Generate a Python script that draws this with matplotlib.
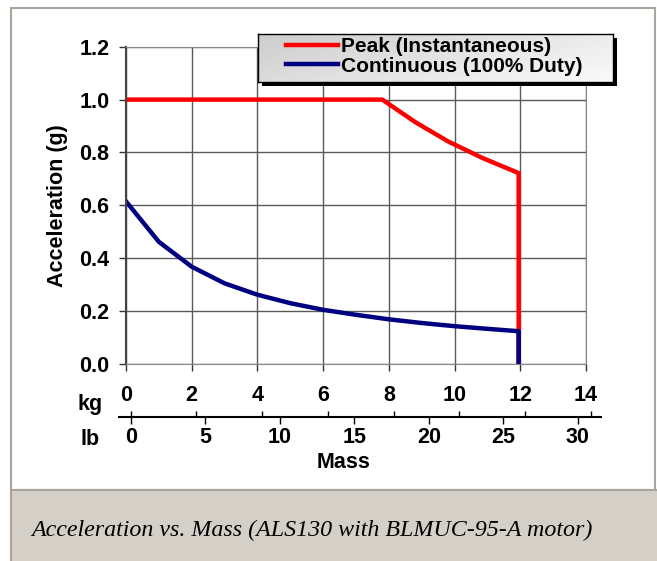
import numpy as np
import matplotlib
matplotlib.use('Agg')
from matplotlib import pyplot as plt
from matplotlib.patches import Rectangle

plt.rcParams['font.family'] = ['Liberation Sans', 'DejaVu Sans']
plt.rcParams['font.weight'] = 'bold'

# Data (mass in kg, acceleration in g)
peak_mass = [0, 7.8, 8.8, 9.8, 10.85, 11.95, 11.95]
peak_acc = [1.0, 1.0, 0.915, 0.842, 0.779, 0.722, 0.0]
cont_mass = [0, 1, 2, 3, 4, 5, 6, 7, 8, 9, 10, 11, 11.95, 11.95]
cont_acc = [0.615, 0.462, 0.368, 0.305, 0.262, 0.230, 0.205, 0.186, 0.169,
            0.155, 0.143, 0.133, 0.124, 0.0]
series_names = ['Peak (Instantaneous)', 'Continuous (100% Duty)']

kg_ticks = [0, 2, 4, 6, 8, 10, 12, 14]
lb_ticks = [0, 5, 10, 15, 20, 25, 30]
acc_ticks = [0.0, 0.2, 0.4, 0.6, 0.8, 1.0, 1.2]
LB_PER_KG = 2.2046

caption = 'Acceleration vs. Mass (ALS130 with BLMUC-95-A motor)'

W, H = 657, 561
FS = 15.5
fig = plt.figure(figsize=(W / 100, H / 100), dpi=100)


def box(x0, y0, x1, y1):
    # pixel box (top-left origin) -> figure fraction rect
    return [x0 / W, 1 - y1 / H, (x1 - x0) / W, (y1 - y0) / H]


# Frame of the figure and caption band
border = '#a9a59d'
fig.add_artist(Rectangle((11 / W, 1 - 490 / H), 644 / W, 482 / H, transform=fig.transFigure,
                         fc='white', ec=border, lw=1.5, zorder=-2))
fig.add_artist(Rectangle((11 / W, -0.01), 1.0, (561 - 490) / H + 0.01, transform=fig.transFigure,
                         fc='#d4d0c8', ec=border, lw=1.5, zorder=-1))

# Main plot
ax = fig.add_axes(box(126, 46.7, 586, 364))
ax.set_xlim(0, 14)
ax.set_ylim(0, 1.2)
ax.set_xticks(kg_ticks)
ax.set_yticks(acc_ticks)
ax.set_yticklabels(['%.1f' % v for v in acc_ticks])
ax.grid(True, color='#5a5a5a', lw=1)
ax.set_axisbelow(True)
for s in ['top', 'right', 'bottom']:
    ax.spines[s].set_color('#888888')
ax.spines['left'].set_color('#444444')
ax.spines['left'].set_linewidth(1.5)
ax.tick_params(axis='y', direction='out', length=5, width=1, color='#333333',
               labelsize=FS, pad=7)
ax.tick_params(axis='x', direction='out', length=5, width=1, color='#333333',
               labelsize=FS, pad=10)

l1, = ax.plot(peak_mass, peak_acc, color='#ff0000', lw=3.2)
l2, = ax.plot(cont_mass, cont_acc, color='#000080', lw=3.2)

# Secondary (lb) axis below
ax2 = fig.add_axes(box(119, 416.5, 601, 417))
ax2.set_xlim(-11.7 / 32.86, 470.3 / 32.86)
ax2.patch.set_visible(False)
for s in ['top', 'right', 'left']:
    ax2.spines[s].set_visible(False)
ax2.spines['bottom'].set_linewidth(1.5)
ax2.set_yticks([])
ax2.xaxis.remove_overlapping_locs = False
ax2.set_xticks(kg_ticks)
ax2.set_xticklabels([])
ax2.set_xticks([v / LB_PER_KG for v in lb_ticks], minor=True)
ax2.set_xticklabels([str(v) for v in lb_ticks], minor=True)
ax2.tick_params(axis='x', which='major', direction='in', length=4.5, width=1)
ax2.tick_params(axis='x', which='minor', direction='out', length=5, width=1,
                labelsize=FS, pad=2)

fig.text(90 / W, 1 - 410 / H, 'kg', ha='center', va='baseline', fontsize=FS)
fig.text(90 / W, 1 - 445 / H, 'lb', ha='center', va='baseline', fontsize=FS)
fig.text(344 / W, 1 - 463 / H, 'Mass', ha='center', va='center', fontsize=FS)
fig.text(57 / W, 1 - 206 / H, 'Acceleration (g)', ha='center', va='center',
         rotation=90, fontsize=FS)

# Legend box with shadow and gradient
fig.add_artist(Rectangle((262 / W, 1 - 86 / H), 355 / W, 48 / H, transform=fig.transFigure,
                         fc='black', ec='none', zorder=2))
lax = fig.add_axes(box(258, 34, 613, 82), zorder=3)
gx, gy = np.meshgrid(np.linspace(0, 1, 200), np.linspace(0, 1, 40))
lax.imshow(0.80 + 0.12 * gx + 0.06 * gy, cmap='gray', vmin=0, vmax=1, aspect='auto',
           extent=(0, 1, 0, 1))
lax.set_xticks([])
lax.set_yticks([])
for s in lax.spines.values():
    s.set_color('black')
    s.set_linewidth(1)

fig.legend([l1, l2], series_names, loc='upper left', bbox_to_anchor=(286 / W, 1 - 37.5 / H),
           frameon=False, borderpad=0, borderaxespad=0, handlelength=2.5,
           handletextpad=0.15, labelspacing=0, prop=dict(weight='bold', size=15))

fig.text(31 / W, 1 - 536 / H, caption, ha='left', va='baseline', fontsize=17.3,
         family='Liberation Serif', style='italic', weight='normal')

fig.savefig('out.png', dpi=100)
